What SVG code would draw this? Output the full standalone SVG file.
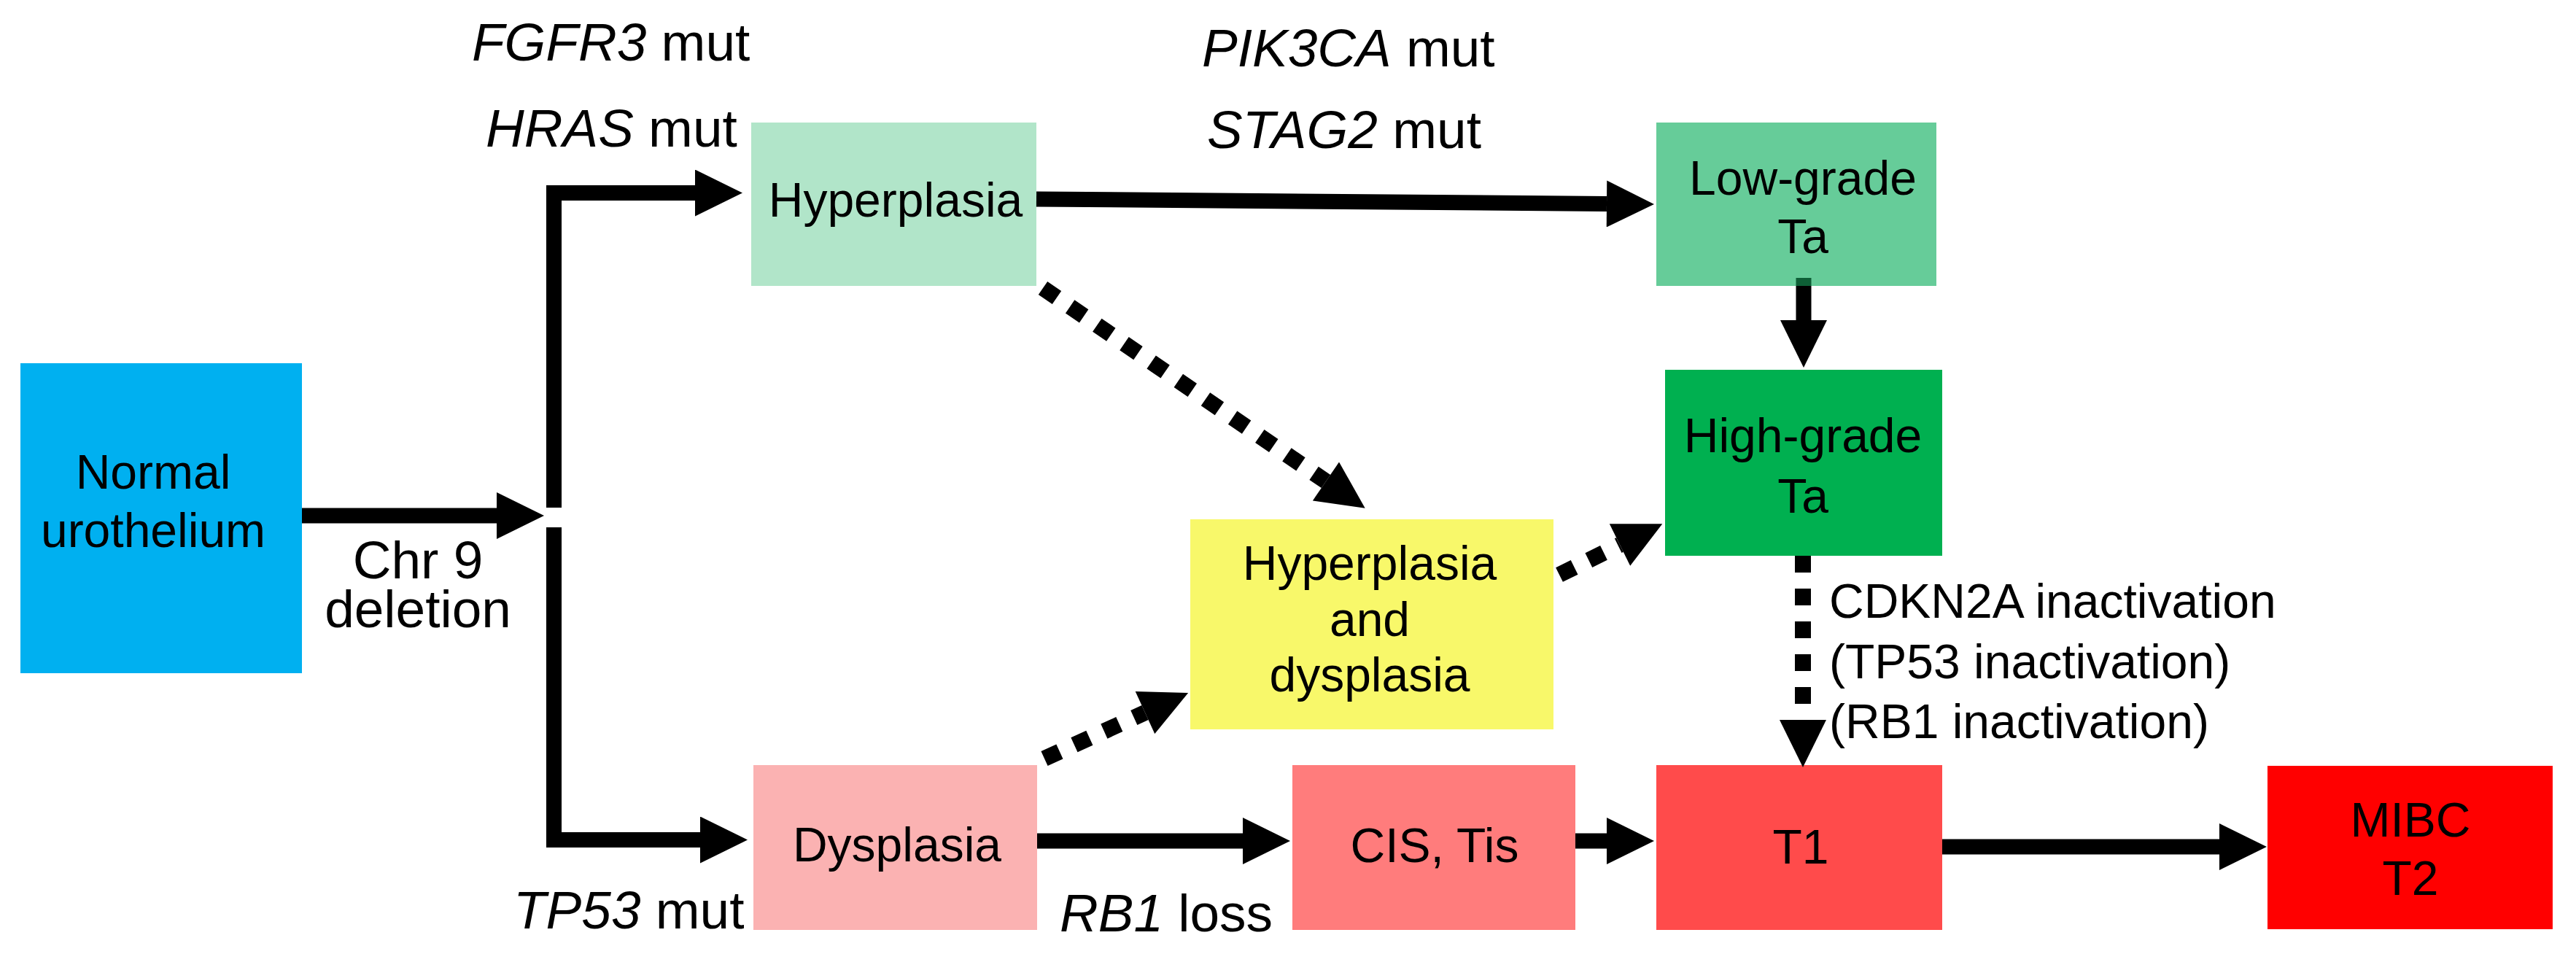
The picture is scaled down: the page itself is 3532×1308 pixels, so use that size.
<svg xmlns="http://www.w3.org/2000/svg" width="3532" height="1308" viewBox="0 0 3532 1308">
<style>
text{font-family:"Liberation Sans",Arial,Helvetica,sans-serif;fill:#000;}
.box{font-size:66px;text-anchor:middle;}
.lab{font-size:73px;}
.lab2{font-size:66px;}
.it{font-style:italic;}
.solid{fill:none;stroke:#000;stroke-width:21;stroke-linejoin:miter;stroke-linecap:butt;}
.dot{fill:none;stroke:#000;stroke-width:22;stroke-dasharray:23 22;stroke-linecap:butt;}
</style>
<defs>
<marker id="ah" markerUnits="userSpaceOnUse" markerWidth="66" markerHeight="64" viewBox="0 0 65 64" refX="0" refY="32" orient="auto">
<path d="M0,0 L65,32 L0,64 Z" fill="#000"/>
</marker>
</defs>
<rect x="0" y="0" width="3532" height="1308" fill="#fff"/>

<g id="node-normal">
<rect x="28" y="498" width="386" height="425" fill="#00B0F0"/>
<text class="box" x="210" y="670">Normal</text>
<text class="box" x="210" y="750">urothelium</text>
</g>
<g id="node-hyperplasia">
<rect x="1030" y="168" width="391" height="224" fill="#B1E5C9"/>
<text class="box" x="1228" y="297">Hyperplasia</text>
</g>
<g id="node-lowgrade">
<rect x="2271" y="168" width="384" height="224" fill="#66CC99"/>
<text class="box" x="2472" y="267">Low-grade</text>
<text class="box" x="2472" y="347">Ta</text>
</g>
<g id="node-highgrade">
<rect x="2283" y="507" width="380" height="255" fill="#00B050"/>
<text class="box" x="2472" y="620">High-grade</text>
<text class="box" x="2472" y="703">Ta</text>
</g>
<g id="node-hyper-dysplasia">
<rect x="1632" y="712" width="498" height="288" fill="#F8F86A"/>
<text class="box" x="1878" y="795">Hyperplasia</text>
<text class="box" x="1878" y="872">and</text>
<text class="box" x="1878" y="948">dysplasia</text>
</g>
<g id="node-dysplasia">
<rect x="1033" y="1049" width="389" height="226" fill="#FBB2B2"/>
<text class="box" x="1230" y="1181">Dysplasia</text>
</g>
<g id="node-cis">
<rect x="1772" y="1049" width="388" height="226" fill="#FF7C7C"/>
<text class="box" x="1967" y="1182">CIS, Tis</text>
</g>
<g id="node-t1">
<rect x="2271" y="1049" width="392" height="226" fill="#FF4B4B"/>
<text class="box" x="2469" y="1184">T1</text>
</g>
<g id="node-mibc">
<rect x="3109" y="1050" width="391" height="224" fill="#FF0000"/>
<text class="box" x="3305" y="1147">MIBC</text>
<text class="box" x="3305" y="1227">T2</text>
</g>

<g id="connectors">
<path class="solid" d="M414,707 H681" marker-end="url(#ah)"/>
<path class="solid" d="M759.5,696 V264.5 H953" marker-end="url(#ah)"/>
<path class="solid" d="M759.5,723 V1151.5 H960" marker-end="url(#ah)"/>
<path class="solid" d="M1421,273 L2203,279.5" marker-end="url(#ah)"/>
<path d="M2473,381 V392" fill="none" stroke="#0E5F36" stroke-width="21"/>
<path class="solid" d="M2473,392 V439" marker-end="url(#ah)"/>
<path class="solid" d="M1422,1153 H1704" marker-end="url(#ah)"/>
<path class="solid" d="M2160,1153 H2203" marker-end="url(#ah)"/>
<path class="solid" d="M2663,1161 H3043" marker-end="url(#ah)"/>
<path class="dot" d="M1430,395 L1818,660" marker-end="url(#ah)"/>
<path class="dot" d="M1432,1040 L1570,977" marker-end="url(#ah)"/>
<path class="dot" d="M2138,788 L2221,747" marker-end="url(#ah)"/>
<path class="dot" d="M2472,762 V987" marker-end="url(#ah)"/>
</g>

<g id="labels">
<text class="lab" x="647" y="83"><tspan class="it">FGFR3</tspan> mut</text>
<text class="lab" x="666" y="201"><tspan class="it">HRAS</tspan> mut</text>
<text class="lab" x="1648" y="91"><tspan class="it">PIK3CA</tspan> mut</text>
<text class="lab" x="1655" y="203"><tspan class="it">STAG2</tspan> mut</text>
<text class="lab" x="573" y="793" text-anchor="middle">Chr 9</text>
<text class="lab" x="573" y="860" text-anchor="middle">deletion</text>
<text class="lab" x="704" y="1273"><tspan class="it">TP53</tspan> mut</text>
<text class="lab" x="1453" y="1277"><tspan class="it">RB1</tspan> loss</text>
<text class="lab2" x="2508" y="847">CDKN2A inactivation</text>
<text class="lab2" x="2508" y="930">(TP53 inactivation)</text>
<text class="lab2" x="2508" y="1012">(RB1 inactivation)</text>
</g>
</svg>
